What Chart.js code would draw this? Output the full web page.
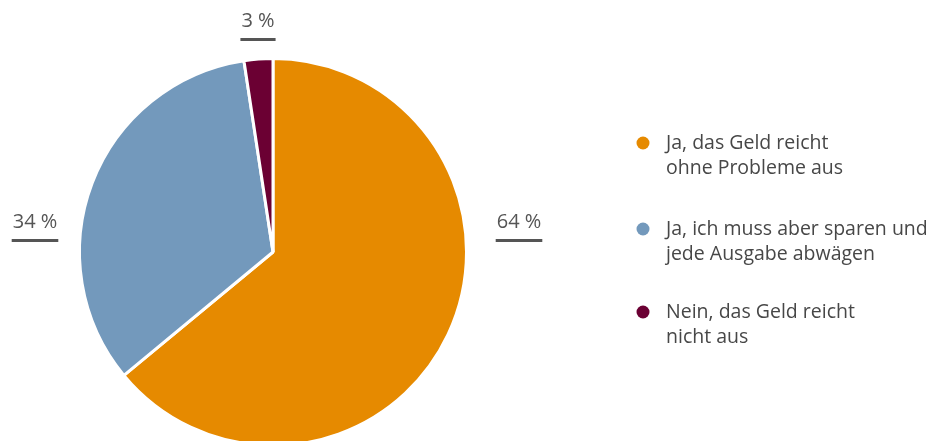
<!DOCTYPE html>
<html>
<head>
<meta charset="utf-8">
<script src="https://cdn.jsdelivr.net/npm/chart.js@4"></script>
<style>
  html, body { margin: 0; padding: 0; background: #fff; overflow: hidden; }
  #wrap { position: absolute; left: 0; top: 0; width: 929px; height: 460px; }
</style>
</head>
<body>
<div id="wrap"><canvas id="pie"></canvas></div>
<script>
const categories = [
    ['Ja, das Geld reicht', 'ohne Probleme aus'],
    ['Ja, ich muss aber sparen und', 'jede Ausgabe abwägen'],
    ['Nein, das Geld reicht', 'nicht aus']
];
const shares = [64.0, 33.6, 2.4];
const shareLabels = ['64 %', '34 %', '3 %'];
const colors = ['#e68a00', '#7399bc', '#6b0033'];

const textColor = '#555555';
const fontFamily = '"Open Sans", "Noto Sans", sans-serif';

// value labels with underline, placed around the pie
const valueLabels = {
    id: 'valueLabels',
    afterDraw(chart) {
        const ctx = chart.ctx;
        const a = chart.chartArea;
        const cy = (a.top + a.bottom) / 2;
        const spots = [
            { x: a.right + 51, y: cy - 30 },
            { x: a.left - 43, y: cy - 30 },
            { x: 258, y: a.top - 36 }
        ];
        ctx.save();
        ctx.font = '20px ' + fontFamily;
        ctx.fillStyle = textColor;
        ctx.strokeStyle = textColor;
        ctx.textAlign = 'center';
        ctx.textBaseline = 'middle';
        shareLabels.forEach((t, i) => {
            const p = spots[i];
            ctx.fillText(t, p.x, p.y);
            const w = ctx.measureText(t).width + 2;
            ctx.lineWidth = 3;
            ctx.beginPath();
            ctx.moveTo(p.x - w / 2, p.y + 18.5);
            ctx.lineTo(p.x + w / 2, p.y + 18.5);
            ctx.stroke();
        });
        ctx.restore();
    }
};

// legend on the right with round markers and two-line labels
const sideLegend = {
    id: 'sideLegend',
    afterDraw(chart) {
        const ctx = chart.ctx;
        const rows = [143, 229, 312];
        ctx.save();
        ctx.font = '19.5px ' + fontFamily;
        ctx.textAlign = 'left';
        ctx.textBaseline = 'middle';
        chart.data.labels.forEach((lines, i) => {
            const y = rows[i];
            ctx.fillStyle = chart.data.datasets[0].backgroundColor[i];
            ctx.beginPath();
            ctx.arc(643, y, 6.5, 0, Math.PI * 2);
            ctx.fill();
            ctx.fillStyle = '#474747';
            lines.forEach((ln, j) => ctx.fillText(ln, 666, y + j * 25));
        });
        ctx.restore();
    }
};

new Chart(document.getElementById('pie'), {
    type: 'pie',
    data: {
        labels: categories,
        datasets: [{
            data: shares,
            backgroundColor: colors,
            borderColor: '#ffffff',
            borderWidth: 3,
            hoverOffset: 0
        }]
    },
    options: {
        responsive: true,
        maintainAspectRatio: false,
        animation: false,
        layout: { padding: { left: 78, right: 461, top: 57, bottom: 13 } },
        plugins: {
            legend: { display: false },
            tooltip: { enabled: false }
        }
    },
    plugins: [valueLabels, sideLegend]
});
</script>
</body>
</html>
